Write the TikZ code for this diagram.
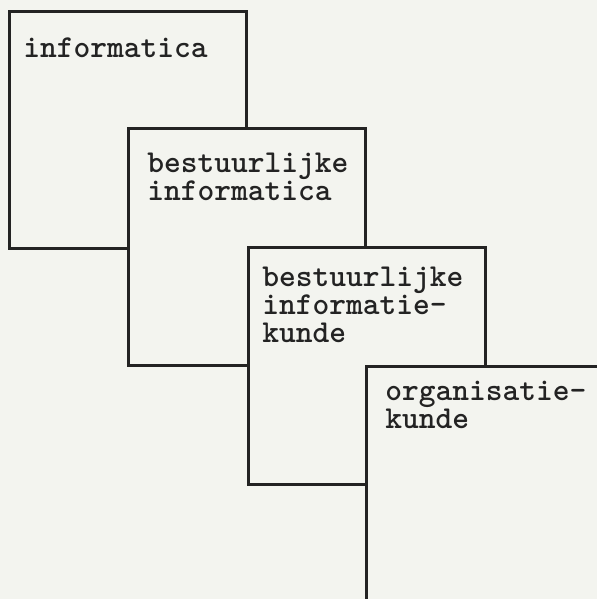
\documentclass[tikz,border=0pt]{standalone}
\usepackage{fontspec}
\usetikzlibrary{positioning}
\definecolor{paper}{HTML}{F3F4EF}
\definecolor{ink}{HTML}{232323}
\tikzstyle{vak} = [rectangle, 
draw=ink, fill=paper, 
line width=1.8pt, 
minimum width=5.925cm, 
minimum height=5.925cm, 
inner sep=0pt, anchor=north west]
\tikzstyle{naam} = [anchor=base west, align=left, inner sep=0pt, text=ink,
font=\ttfamily\bfseries\fontsize{22.7}{19.9}\selectfont]
\begin{document}
\begin{tikzpicture}[x=0.025cm, y=-0.025cm]
        \fill[paper] (0,0) rectangle (597,599);
        \useasboundingbox (0,0) rectangle (597,599);
        \clip (0,0) rectangle (597,599);
        \node[vak] (info) at (8,10) {};
        \node[vak] (bestinfo) at (127,127) {};
        \node[vak] (bestkunde) at (247,246) {};
        \node[vak] (orgkunde) at (365,365) {};
        % base anchor sits on the last line
        \node[naam] (tinfo) at (23,57) {informatica};
        \node[naam] (tbestinfo) at (147,200) {bestuurlijke\\informatica};
        \node[naam] (tbestkunde) at (262,342) {bestuurlijke\\informatie-\\kunde};
        \node[naam] (torgkunde) at (385,428) {organisatie-\\kunde};
    \end{tikzpicture}
\end{document}
